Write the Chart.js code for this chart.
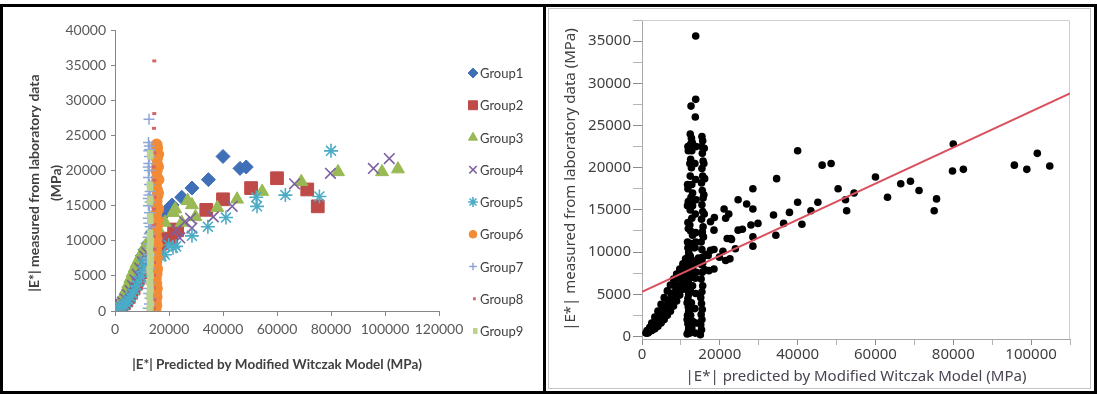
<!DOCTYPE html>
<html>
<head>
<meta charset="utf-8">
<script src="https://cdn.jsdelivr.net/npm/chart.js"></script>
<style>
  html, body { margin: 0; padding: 0; background: #fff; }
  body { width: 1097px; height: 394px; position: relative; overflow: hidden; }
  #frame { position: absolute; left: 0; top: 4px; width: 1097px; height: 390px; border: 3px solid #000; box-sizing: border-box; }
  #divider { position: absolute; left: 543px; top: 4px; width: 3px; height: 390px; background: #000; }
  #innerFrame { position: absolute; left: 548px; top: 8px; width: 543px; height: 381px; border: 1px solid #c4c4c4; box-sizing: border-box; }
  #leftChart { position: absolute; left: 3px; top: 7px; }
  #rightChart { position: absolute; left: 549px; top: 9px; }
</style>
</head>
<body>
<div id="frame"></div>
<div id="divider"></div>
<div id="innerFrame"></div>
<canvas id="leftChart" width="540" height="384"></canvas>
<canvas id="rightChart" width="542" height="380"></canvas>
<script>
// [predicted |E*|, measured |E*|] in MPa
const group1 = [[1300,700],[2000,1100],[2700,1500],[3400,1900],[4200,2400],[5000,3000],[5800,3600],[6600,4300],[7500,5100],[8400,6000],[9300,6900],[10200,7900],[11100,8700],[12300,9600],[13800,11200],[15500,12400],[17600,13600],[18600,14100],[21100,15100],[24700,16200],[28500,17500],[34600,18700],[40000,22000],[46300,20300],[48600,20500]];
const group2 = [[1500,400],[2400,700],[3300,1100],[4200,1500],[5100,2000],[6000,2600],[6900,3200],[7800,3900],[8700,4700],[9600,5500],[10500,6400],[11300,7300],[13000,8200],[15600,8700],[17000,9600],[18500,10300],[20800,10100],[21900,11600],[23000,11500],[33800,14400],[40000,15900],[50400,17500],[60000,18900],[71200,17300],[75100,14900]];
const group3 = [[2500,1600],[3300,2300],[4100,3000],[4900,3800],[5700,4600],[6500,5400],[7300,6100],[8100,6800],[8900,7400],[9700,8000],[10500,8600],[11200,9200],[13500,10500],[15800,11800],[18500,12600],[21500,14000],[22300,14500],[24700,12600],[26900,15700],[28500,15100],[29800,13400],[37900,14700],[45200,15900],[54500,17000],[69000,18400],[82600,19800],[98900,19800],[104800,20200]];
const group4 = [[2000,800],[2900,1200],[3800,1700],[4700,2300],[5600,2900],[6500,3600],[7400,4400],[8300,5200],[9200,6100],[10100,7000],[11000,7800],[11800,8300],[14500,9300],[16500,9700],[17600,10200],[22800,11600],[24000,10400],[25800,12700],[28000,13200],[28500,11800],[36400,13400],[43400,14900],[66500,18100],[79800,19600],[95700,20300],[101600,21700]];
const group5 = [[1000,400],[1700,500],[2500,700],[3300,900],[4100,1200],[4900,1600],[5700,2000],[6500,2500],[7300,3000],[8100,3600],[8900,4200],[9700,4900],[10500,5600],[11000,6300],[10800,7200],[14000,7600],[16200,7900],[17200,7800],[18500,8000],[19900,9400],[21500,9000],[22600,9200],[28500,10700],[34400,12000],[41100,13300],[52300,16200],[52600,14900],[63100,16500],[75700,16300],[80000,22800]];
const group6 = [[15000,200],[15300,800],[15100,1400],[15400,2000],[15200,2600],[15500,3200],[15300,3900],[15100,4600],[15400,5300],[15600,6000],[15200,6800],[15500,7600],[15300,8500],[15600,9400],[15400,10300],[15200,11200],[15500,12100],[15700,13000],[15300,13900],[15600,14800],[15400,15600],[15700,16400],[15500,17300],[15300,18200],[15600,19000],[15400,19900],[15700,20800],[15500,21700],[15300,22500],[15600,23200],[15400,23700],[16000,22300],[15900,20500],[16100,18700],[15900,16800],[16000,14500]];
const group7 = [[12600,27300],[12400,24000],[12700,23500],[12900,23000],[12500,22800],[12800,22000],[12500,21000],[12300,20500],[12700,20000],[12400,19000],[12800,18000],[13000,17000],[12600,16500],[12300,16000],[13000,15500],[12400,15000],[12800,14000],[12300,13200],[12500,12500],[13000,12000],[12700,11000],[12300,10500],[12400,9500],[13000,9000],[12800,8000],[12300,7500],[12600,7000],[13000,6000],[12400,5500],[12700,4000],[12300,3200],[12500,2500],[13000,1800],[12800,1000],[12300,400]];
const group8 = [[13800,35600],[13800,28100],[13700,26000],[13900,22500],[13600,20500],[13800,18600],[13900,16200],[13700,14500],[13800,12300],[13600,10600],[13900,8800],[13700,6900],[13800,5100],[13600,3300],[13900,1600],[13700,400]];
const group9 = [[11800,22500],[11900,22000],[11700,18000],[11800,17500],[11900,16000],[11700,15500],[11800,13500],[11900,12800],[11700,11200],[11800,10500],[12000,10000],[11900,9500],[11600,9000],[11700,8500],[12100,8000],[11800,7500],[12000,7000],[11900,6500],[11600,6000],[11700,5500],[12000,5000],[11800,4500],[11600,4000],[11900,3500],[12000,3000],[11700,2500],[11600,2000],[11800,1500],[12000,1000],[11900,600],[11600,300]];

const groups = [group1, group2, group3, group4, group5, group6, group7, group8, group9];
const groupNames = ['Group1','Group2','Group3','Group4','Group5','Group6','Group7','Group8','Group9'];

// fitted line on the right panel
const fitLine = [[0,5300],[110000,28800]];

const leftXTicks = [0, 20000, 40000, 60000, 80000, 100000, 120000];
const leftYTicks = [0, 5000, 10000, 15000, 20000, 25000, 30000, 35000, 40000];
const rightXTicks = [0, 10000, 20000, 30000, 40000, 50000, 60000, 70000, 80000, 90000, 100000, 110000];
const rightYTicks = [0, 2500, 5000, 7500, 10000, 12500, 15000, 17500, 20000, 22500, 25000, 27500, 30000, 32500, 35000, 37500];

// Excel style markers
const markerStyles = [
    { color: '#3f6fb6', style: 'rectRot',  radius: 7,   border: 1 },
    { color: '#be4b48', style: 'rect',     radius: 9,   border: 1 },
    { color: '#98b954', style: 'triangle', radius: 7.5, border: 1 },
    { color: '#7d60a0', style: 'crossRot', radius: 7.5, border: 1.6 },
    { color: '#4bacc6', style: 'star',     radius: 7,   border: 1.6 },
    { color: '#f28a36', style: 'circle',   radius: 5.5, border: 1 },
    { color: '#8ea6d6', style: 'cross',    radius: 5.5, border: 1.5 },
    { color: '#d4676a', style: 'dash',     radius: 4,   border: 3 },
    { color: '#bcd38e', style: 'dash',     radius: 6.5, border: 6 }
];

const leftFont = 'Lato, "Liberation Sans", sans-serif';
const rightFont = '"Noto Sans", "Open Sans", sans-serif';

// Legend drawn by hand so it sits where Excel puts it
const groupLegend = {
    id: 'groupLegend',
    afterDraw(chart) {
        const ctx = chart.ctx;
        ctx.save();
        chart.data.datasets.forEach((ds, i) => {
            const m = markerStyles[i];
            const y = 66 + i * 32.25;
            ctx.fillStyle = m.color;
            ctx.strokeStyle = m.color;
            ctx.lineWidth = m.border;
            Chart.helpers.drawPoint(ctx, {
                pointStyle: m.style,
                radius: m.radius * 0.7,
                borderWidth: m.border,
                rotation: 0
            }, 470, y);
            ctx.fillStyle = '#404040';
            ctx.font = '13px ' + leftFont;
            ctx.textAlign = 'left';
            ctx.textBaseline = 'middle';
            ctx.fillText(groupNames[i], 477, y + 1);
        });
        ctx.restore();
    }
};

// Excel puts the two-line y title a bit lower than the axis middle
const leftYTitle = {
    id: 'leftYTitle',
    afterDraw(chart) {
        const ctx = chart.ctx;
        ctx.save();
        ctx.fillStyle = '#404040';
        ctx.font = 'bold 14px ' + leftFont;
        ctx.textAlign = 'center';
        ctx.textBaseline = 'middle';
        ctx.translate(31, 176);
        ctx.rotate(-Math.PI / 2);
        ctx.fillText('|E*| measured from laboratory data', 0, 0);
        ctx.fillText('(MPa)', 0, 22);
        ctx.restore();
    }
};

new Chart(document.getElementById('leftChart'), {
    type: 'scatter',
    data: {
        datasets: groups.map((g, i) => ({
            label: groupNames[i],
            data: g,
            pointStyle: markerStyles[i].style,
            pointRadius: markerStyles[i].radius,
            pointBorderWidth: markerStyles[i].border,
            backgroundColor: markerStyles[i].color,
            borderColor: markerStyles[i].color,
            order: 9 - i
        }))
    },
    options: {
        responsive: false,
        animation: false,
        layout: { padding: { left: 0, top: 23, right: 104, bottom: 10 } },
        plugins: { legend: { display: false }, tooltip: { enabled: false } },
        scales: {
            x: {
                type: 'linear',
                min: 0,
                max: 120000,
                afterBuildTicks: (scale) => { scale.ticks = leftXTicks.map(v => ({ value: v })); },
                afterFit: (scale) => { scale.height = 70; },
                ticks: { color: '#595959', font: { family: leftFont, size: 14 }, padding: 5, callback: v => String(v), maxRotation: 0 },
                grid: { drawOnChartArea: false, tickLength: 5, color: '#868686' },
                border: { color: '#868686' },
                title: {
                    display: true,
                    text: '|E*| Predicted by Modified Witczak Model (MPa)',
                    color: '#404040',
                    font: { family: leftFont, size: 13.5, weight: 'bold' },
                    padding: { top: 0, bottom: 8 }
                }
            },
            y: {
                type: 'linear',
                min: 0,
                max: 40000,
                afterBuildTicks: (scale) => { scale.ticks = leftYTicks.map(v => ({ value: v })); },
                afterFit: (scale) => { scale.width = 112; },
                ticks: { color: '#595959', font: { family: leftFont, size: 14 }, padding: 5, callback: v => String(v) },
                grid: { drawOnChartArea: false, tickLength: 4, color: '#868686' },
                border: { color: '#868686' }
            }
        }
    },
    plugins: [groupLegend, leftYTitle]
});

// JMP style frame round the plot
const plotFrame = {
    id: 'plotFrame',
    beforeDatasetsDraw(chart) {
        const a = chart.chartArea;
        const ctx = chart.ctx;
        ctx.save();
        ctx.strokeStyle = '#cfcfcf';
        ctx.lineWidth = 1;
        ctx.beginPath();
        ctx.moveTo(a.left, a.top + 0.5);
        ctx.lineTo(a.right - 0.5, a.top + 0.5);
        ctx.lineTo(a.right - 0.5, a.bottom);
        ctx.stroke();
        ctx.restore();
    }
};

const allPoints = [].concat(...groups);

new Chart(document.getElementById('rightChart'), {
    type: 'scatter',
    data: {
        datasets: [
            {
                type: 'line',
                data: fitLine,
                borderColor: '#d9515e',
                borderWidth: 2,
                pointRadius: 0,
                fill: false
            },
            {
                data: allPoints,
                pointRadius: 3.8,
                pointBorderWidth: 0,
                backgroundColor: '#000',
                borderColor: '#000'
            }
        ]
    },
    options: {
        responsive: false,
        animation: false,
        layout: { padding: { left: 0, top: 8, right: 21, bottom: 0 } },
        plugins: { legend: { display: false }, tooltip: { enabled: false } },
        scales: {
            x: {
                type: 'linear',
                min: 0,
                max: 110000,
                afterBuildTicks: (scale) => { scale.ticks = rightXTicks.map(v => ({ value: v })); },
                afterFit: (scale) => { scale.height = 50; },
                ticks: {
                    autoSkip: false,
                    maxRotation: 0,
                    color: '#3f3f3f',
                    font: { family: rightFont, size: 15 },
                    padding: 1,
                    callback: v => (v % 20000 === 0 ? String(v) : '')
                },
                grid: {
                    drawOnChartArea: false,
                    tickLength: 6,
                    tickColor: c => (c.tick && c.tick.value % 20000 === 0 ? '#8c8c8c' : '#b4b4b4')
                },
                border: { color: '#a8a8a8' },
                title: {
                    display: true,
                    text: '|E*| predicted by Modified Witczak Model (MPa)',
                    color: '#4a4350',
                    font: { family: rightFont, size: 15 },
                    padding: { top: 0, bottom: 3 }
                }
            },
            y: {
                type: 'linear',
                min: -300,
                max: 37500,
                afterBuildTicks: (scale) => { scale.ticks = rightYTicks.map(v => ({ value: v })); },
                afterFit: (scale) => { scale.width = 93; },
                ticks: {
                    autoSkip: false,
                    color: '#3f3f3f',
                    font: { family: rightFont, size: 15 },
                    padding: 2,
                    callback: v => (v % 5000 === 0 ? String(v) : '')
                },
                grid: {
                    drawOnChartArea: false,
                    tickLength: 9,
                    tickColor: c => (c.tick && c.tick.value % 5000 === 0 ? '#8c8c8c' : '#b4b4b4')
                },
                border: { color: '#a8a8a8' },
                title: {
                    display: true,
                    text: '|E*| measured from laboratory data (MPa)',
                    color: '#404040',
                    font: { family: rightFont, size: 15 },
                    padding: { top: 13, bottom: 0 }
                }
            }
        }
    },
    plugins: [plotFrame]
});
</script>
</body>
</html>
